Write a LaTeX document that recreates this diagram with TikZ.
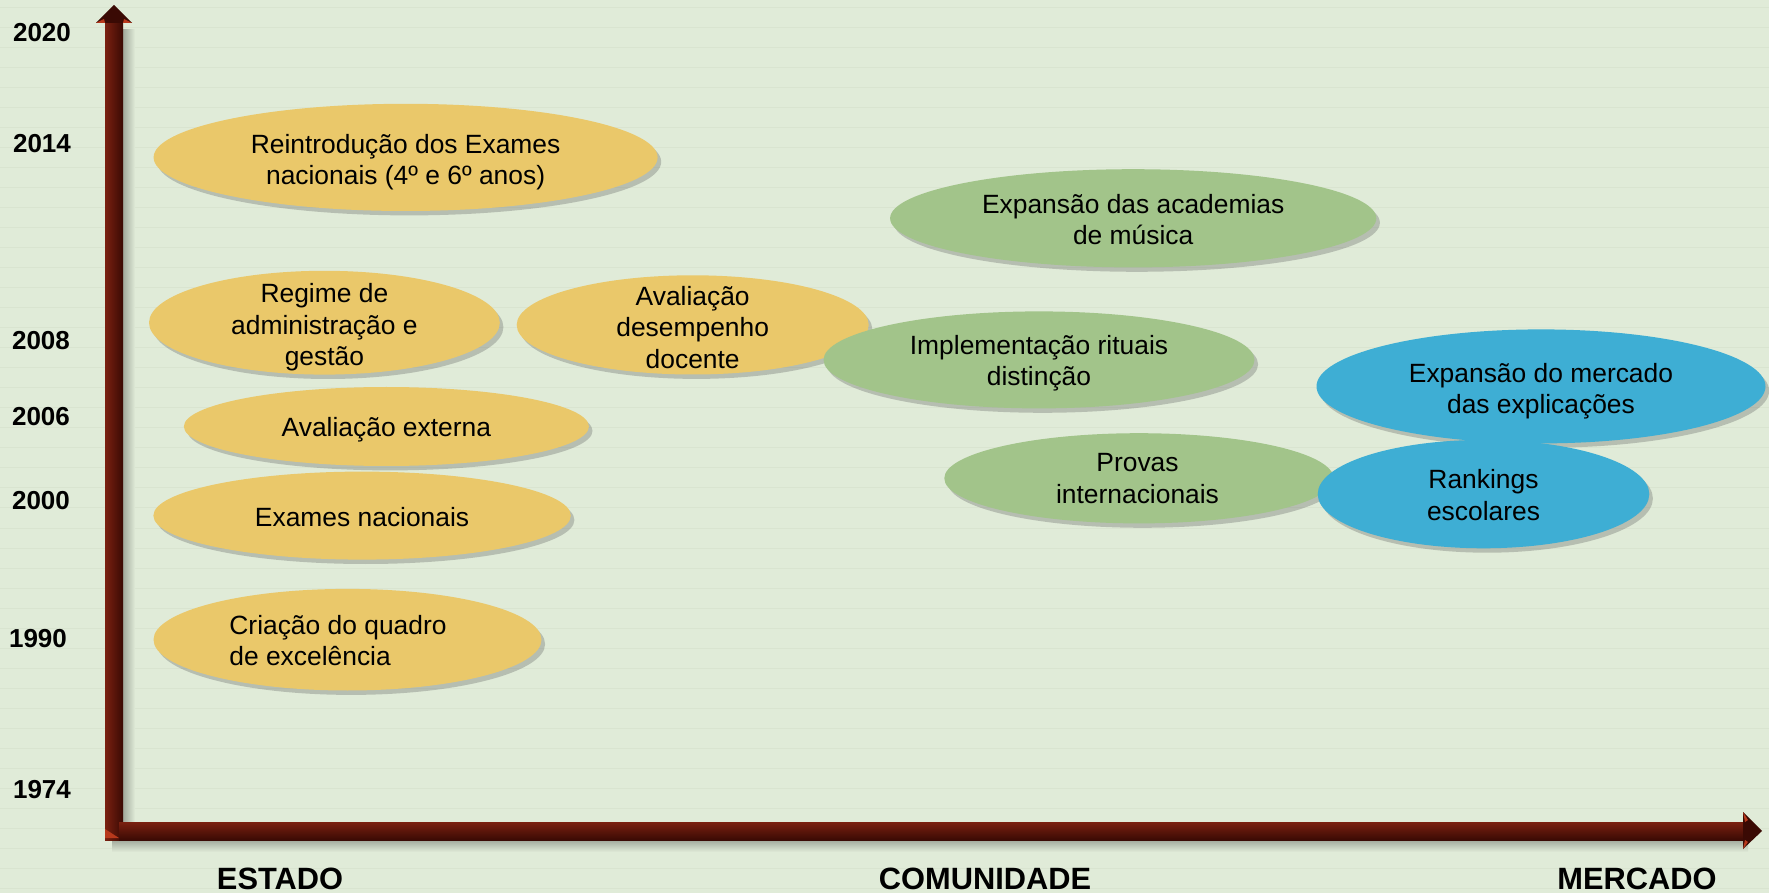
\documentclass[tikz,border=0pt]{standalone}
\usepackage{fontspec}
\setmainfont{Liberation Sans}
\usetikzlibrary{shapes.geometric,shadows}
\definecolor{bg}{HTML}{E0EBD8}
\definecolor{bgline}{HTML}{D9E4D0}
\definecolor{yel}{HTML}{EAC86A}
\definecolor{grn}{HTML}{A2C48A}
\definecolor{blu}{HTML}{3EAED4}
\definecolor{axr}{HTML}{7A2010}
\definecolor{axd}{HTML}{3A0A04}
\definecolor{axl}{HTML}{B8391C}
\tikzset{
  bubble/.style={ellipse, inner sep=0pt,
    drop shadow={shadow xshift=1.8pt, shadow yshift=-2.2pt, opacity=0.28, fill=black!70}},
  ybub/.style={bubble, fill=yel},
  gbub/.style={bubble, fill=grn},
  bbub/.style={bubble, fill=blu},
  btext/.style={inner sep=0pt, align=center, font=\fontsize{13.2}{15.8}\selectfont},
  year/.style={inner sep=0pt, font=\bfseries\fontsize{13}{15}\selectfont},
  axlab/.style={inner sep=0pt, font=\bfseries\fontsize{15.4}{18}\selectfont},
}
\begin{document}
\begin{tikzpicture}[x=0.5pt,y=-0.5pt]
\fill[bg] (0,0) rectangle (1769,893);
\useasboundingbox (0,0) rectangle (1769,893);
\foreach \y in {8,28,...,888} \draw[bgline, line width=0.5pt] (0,\y) -- (1769,\y);

% axes shadows
\shade[left color=bg!72!black, right color=bg] (123,30) rectangle (135,846);
\shade[top color=bg!72!black, bottom color=bg] (112,840) rectangle (1748,852);
% vertical axis
\shade[left color=axr, right color=axd] (105,22) rectangle (123,840);
\fill[axl] (105,829) -- (105,838) -- (119,838) -- cycle;
% horizontal axis
\shade[top color=axr, bottom color=axd] (119,822) rectangle (1745,840);
% arrow heads
\fill[axd] (114,5) -- (132,23) -- (96,23) -- cycle;
\fill[axl] (96,23) -- (104,19) -- (105,23) -- cycle;
\fill[axl] (132,23) -- (124,19) -- (123,23) -- cycle;
\fill[axd] (1762,831) -- (1743,812) -- (1743,849) -- cycle;
\fill[axl] (1743,812) -- (1748,820) -- (1745,822) -- cycle;
\fill[axl] (1743,849) -- (1748,842) -- (1745,840) -- cycle;

% years
\node[year] (y2020) at (42,33) {2020};
\node[year] (y2014) at (42,144) {2014};
\node[year] (y2008) at (41,341) {2008};
\node[year] (y2006) at (41,417) {2006};
\node[year] (y2000) at (41,501) {2000};
\node[year] (y1990) at (38,639) {1990};
\node[year] (y1974) at (42,790) {1974};

% axis labels
\node[axlab] (estado) at (280,879) {ESTADO};
\node[axlab] (comun) at (985,879) {COMUNIDADE};
\node[axlab] (merc) at (1637,879) {MERCADO};

% yellow (Estado)
\node[ybub, minimum width=252pt, minimum height=53.6pt] (reint) at (405.6,157.4) {};
\node[btext] (reintt) at (405.6,162) {Reintrodução dos Exames\\nacionais (4º e 6º anos)};
\node[ybub, minimum width=175.4pt, minimum height=51.9pt] (regime) at (324.4,322.7) {};
\node[btext] (regimet) at (324.4,327.2) {Regime de\\administração e\\gestão};
\node[ybub, minimum width=176pt, minimum height=49.6pt] (avdoc) at (692.7,324.9) {};
\node[btext] (avdoct) at (692.7,327.2) {Avaliação\\desempenho\\docente};
\node[ybub, minimum width=202.5pt, minimum height=39.5pt] (avext) at (386.4,426.5) {};
\node[btext] (avextt) at (386.4,430) {Avaliação externa};
\node[ybub, minimum width=208.7pt, minimum height=44pt] (exames) at (362.1,515.6) {};
\node[btext] (examest) at (362.1,516.7) {Exames nacionais};
\node[ybub, minimum width=194pt, minimum height=50.8pt] (quadro) at (347.5,639.7) {};
\node[btext, anchor=west, align=left] (quadrot) at (229,640.5) {Criação do quadro\\de excelência};

% green (Comunidade)
\node[gbub, minimum width=243.1pt, minimum height=49.1pt] (acad) at (1133.2,218.3) {};
\node[btext] (acadt) at (1133.2,219.4) {Expansão das academias\\de música};
\node[gbub, minimum width=215.5pt, minimum height=48.5pt] (ritu) at (1039,359.9) {};
\node[btext] (ritut) at (1039,363.3) {Implementação rituais\\distinção};
\node[gbub, minimum width=194.6pt, minimum height=45.1pt] (provas) at (1138.9,478.3) {};
\node[btext] (provast) at (1137.5,478.3) {Provas\\internacionais};

% blue (Mercado)
\node[bbub, minimum width=224.5pt, minimum height=57pt] (explic) at (1541,386.4) {};
\node[btext] (explict) at (1541,391.4) {Expansão do mercado\\das explicações};
\node[bbub, minimum width=165.8pt, minimum height=54.2pt] (rank) at (1483.5,494.1) {};
\node[btext] (rankt) at (1483.5,495.2) {Rankings\\escolares};
\end{tikzpicture}
\end{document}
